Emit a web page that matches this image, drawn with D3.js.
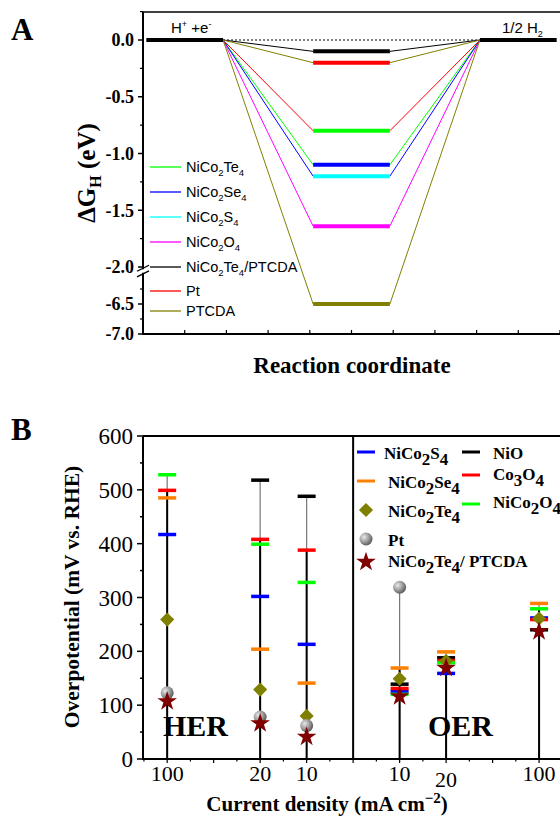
<!DOCTYPE html>
<html>
<head>
<meta charset="utf-8">
<script src="https://cdn.jsdelivr.net/npm/d3@7"></script>
<style>
  body { margin: 0; background: #fff; }
  svg { display: block; }
</style>
</head>
<body>
<svg id="chart" width="560" height="817"></svg>
<script>
// ---- Panel A data: free energy levels (eV) ----
var levelNames = ["NiCo_2Te_4/PTCDA", "Pt", "NiCo_2Te_4", "NiCo_2Se_4", "NiCo_2S_4", "NiCo_2O_4", "PTCDA"];
var levelValues = [-0.10, -0.20, -0.80, -1.10, -1.20, -1.64, -6.50];
var levelColors = ["#000000", "#ff0000", "#00ff00", "#0000ff", "#00ffff", "#ff00ff", "#808000"];
// connector colours as drawn in the original (shifted against the levels)
var connectorColors = ["#000000", "#808000", "#ff0000", "#00ff00", "#0000ff", "#ff00ff", "#808000"];
var legendAOrder = ["NiCo_2Te_4", "NiCo_2Se_4", "NiCo_2S_4", "NiCo_2O_4", "NiCo_2Te_4/PTCDA", "Pt", "PTCDA"];
var ticksAUpper = [0.0, -0.5, -1.0, -1.5, -2.0];
var ticksALower = [-6.5, -7.0];

// ---- Panel B data: overpotential (mV vs RHE) ----
var catLabels = ["100", "20", "10", "10", "20", "100"];
var catSlots = [0, 2, 3, 5, 6, 8];
var seriesB = ["NiCo_2S_4", "NiCo_2Se_4", "NiCo_2Te_4", "Pt", "NiCo_2Te_4/ PTCDA", "NiO", "Co_3O_4", "NiCo_2O_4"];
var valNiCo2S4   = [417, 302, 213, 126, 159, 262];
var valNiCo2Se4  = [485, 204, 141, 169, 199, 289];
var valNiCo2Te4  = [259, 129, 80, 149, 182, 261];
var valPt        = [123, 78, 62, 319, null, null];
var valTePTCDA   = [109, 68, 43, 118, 171, 239];
var valNiO       = [null, 518, 488, 139, 188, 240];
var valCo3O4     = [499, 408, 388, 131, 183, 259];
var valNiCo2O4   = [528, 399, 328, 120, 179, 279];
var ticksBY = [0, 100, 200, 300, 400, 500, 600];

var SERIF = "'Liberation Serif', 'Times New Roman', serif";
var SANS = "'Liberation Sans', Arial, sans-serif";

var svg = d3.select("#chart");

// write "NiCo_2S_4" style strings with subscripts
function chem(sel, str, subSize, shift) {
    var parts = str.split(/(_\d)/).filter(function(p) { return p; });
    var back = 0;
    parts.forEach(function(p) {
        if (p[0] === "_") {
            sel.append("tspan").attr("dy", shift + back).style("font-size", subSize + "px").text(p[1]);
            back = -shift;
        } else {
            sel.append("tspan").attr("dy", back).text(p);
            back = 0;
        }
    });
}

// =================== Panel A ===================
var xA = d3.scaleLinear().domain([0, 10]).range([143, 560]);
var yUp = d3.scaleLinear().domain([0, -2]).range([40, 267]);
var yLo = d3.scaleLinear().domain([-6.5, -7.0]).range([304, 334]);
function yA(v) { return v > -3 ? yUp(v) : yLo(v); }

var gA = svg.append("g");

// axes frame
gA.append("line").attr("x1", 143).attr("x2", 560).attr("y1", 12).attr("y2", 12)
    .attr("stroke", "#000").attr("stroke-width", 1.5);
gA.append("line").attr("x1", 143).attr("x2", 143).attr("y1", 12).attr("y2", yUp(-2.02))
    .attr("stroke", "#000").attr("stroke-width", 2);
gA.append("line").attr("x1", 143).attr("x2", 143).attr("y1", yLo(-5.98)).attr("y2", 334)
    .attr("stroke", "#000").attr("stroke-width", 2);
gA.append("line").attr("x1", 142).attr("x2", 560).attr("y1", 334).attr("y2", 334)
    .attr("stroke", "#000").attr("stroke-width", 2);
// break marks
[yUp(-2.02) - 1, yLo(-5.98) + 1].forEach(function(y) {
    gA.append("line").attr("x1", 137).attr("x2", 149).attr("y1", y + 3).attr("y2", y - 3)
        .attr("stroke", "#000").attr("stroke-width", 1.3);
});

// y ticks
var minorUp = [0.25, -0.25, -0.75, -1.25, -1.75];
ticksAUpper.forEach(function(v) {
    gA.append("line").attr("x1", 138).attr("x2", 143).attr("y1", yUp(v)).attr("y2", yUp(v)).attr("stroke", "#000").attr("stroke-width", 1.5);
});
minorUp.forEach(function(v) {
    gA.append("line").attr("x1", 140).attr("x2", 143).attr("y1", yUp(v)).attr("y2", yUp(v)).attr("stroke", "#000").attr("stroke-width", 1.2);
});
ticksALower.forEach(function(v) {
    gA.append("line").attr("x1", 138).attr("x2", 143).attr("y1", yLo(v)).attr("y2", yLo(v)).attr("stroke", "#000").attr("stroke-width", 1.5);
});
[-6.25, -6.75].forEach(function(v) {
    gA.append("line").attr("x1", 140).attr("x2", 143).attr("y1", yLo(v)).attr("y2", yLo(v)).attr("stroke", "#000").attr("stroke-width", 1.2);
});
gA.selectAll("text.ytA").data(ticksAUpper.concat(ticksALower)).enter().append("text")
    .attr("x", 134).attr("y", function(d) { return yA(d); }).attr("dy", "0.35em")
    .attr("text-anchor", "end").style("font-family", SERIF).style("font-size", "18px").style("font-weight", "bold")
    .text(function(d) { return d3.format(".1f")(d).replace("\u2212", "-"); });

// x ticks (inward, unlabeled)
d3.range(1, 11).forEach(function(i) {
    gA.append("line").attr("x1", xA(i)).attr("x2", xA(i)).attr("y1", 334).attr("y2", 330)
        .attr("stroke", "#000").attr("stroke-width", 1.2);
});

// dotted zero line
var hw = 0.92;
gA.append("line").attr("x1", xA(1 + hw)).attr("x2", xA(9 - hw)).attr("y1", yA(0)).attr("y2", yA(0))
    .attr("stroke", "#000").attr("stroke-width", 1).attr("stroke-dasharray", "2,2");

// connectors
levelValues.forEach(function(v, i) {
    var pts = [[xA(1 + hw), yA(0)], [xA(5 - hw), yA(v)], [xA(5 + hw), yA(v)], [xA(9 - hw), yA(0)]];
    gA.append("path").attr("d", d3.line()([pts[0], pts[1]]))
        .attr("fill", "none").attr("stroke", connectorColors[i]).attr("stroke-width", 1);
    gA.append("path").attr("d", d3.line()([pts[2], pts[3]]))
        .attr("fill", "none").attr("stroke", connectorColors[i]).attr("stroke-width", 1);
});

// levels
gA.selectAll("line.lvl").data(levelValues).enter().append("line")
    .attr("x1", xA(5 - hw)).attr("x2", xA(5 + hw))
    .attr("y1", function(d) { return yA(d); }).attr("y2", function(d) { return yA(d); })
    .attr("stroke", function(d, i) { return levelColors[i]; }).attr("stroke-width", 4);
[1, 9].forEach(function(c) {
    gA.append("line").attr("x1", xA(c - hw)).attr("x2", xA(c + hw)).attr("y1", yA(0)).attr("y2", yA(0))
        .attr("stroke", "#000").attr("stroke-width", 4);
});

// state labels
var h1 = gA.append("text").attr("x", 171).attr("y", 33).style("font-family", SANS).style("font-size", "15px");
h1.append("tspan").text("H");
h1.append("tspan").attr("dy", -6).style("font-size", "9px").text("+");
h1.append("tspan").attr("dy", 6).text(" +e");
h1.append("tspan").attr("dy", -6).style("font-size", "9px").text("-");
var h2 = gA.append("text").attr("x", 502).attr("y", 33).style("font-family", SANS).style("font-size", "15px");
h2.append("tspan").text("1/2 H");
h2.append("tspan").attr("dy", 4).style("font-size", "9px").text("2");

// legend A
var legYs = [167, 192, 217, 242, 267, 291, 311];
legendAOrder.forEach(function(name, i) {
    var idx = levelNames.indexOf(name);
    gA.append("line").attr("x1", 150).attr("x2", 181).attr("y1", legYs[i]).attr("y2", legYs[i])
        .attr("stroke", levelColors[idx]).attr("stroke-width", 1.3);
    var t = gA.append("text").attr("x", 186).attr("y", legYs[i] + 5)
        .style("font-family", SANS).style("font-size", "14.5px");
    chem(t, name, 9.5, 4);
});

// axis titles A
var ylA = gA.append("text").attr("transform", "translate(95,173) rotate(-90)")
    .attr("text-anchor", "middle").style("font-family", SERIF).style("font-size", "25px").style("font-weight", "bold");
ylA.append("tspan").text("\u0394G");
ylA.append("tspan").attr("dy", 6).style("font-size", "16px").text("H");
ylA.append("tspan").attr("dy", -6).text(" (eV)");
gA.append("text").attr("x", 352).attr("y", 373).attr("text-anchor", "middle")
    .style("font-family", SERIF).style("font-size", "23px").style("font-weight", "bold").text("Reaction coordinate");
gA.append("text").attr("x", 11).attr("y", 40)
    .style("font-family", SERIF).style("font-size", "31px").style("font-weight", "bold").text("A");

// =================== Panel B ===================
var xB = d3.scaleLinear().domain([-0.52, 8.45]).range([143, 560]);
var yB = d3.scaleLinear().domain([0, 600]).range([759, 436]);
var gB = svg.append("g");

var defs = svg.append("defs");
var grad = defs.append("radialGradient").attr("id", "ptGrad").attr("cx", "35%").attr("cy", "35%").attr("r", "70%");
grad.append("stop").attr("offset", "0%").attr("stop-color", "#e8e8e8");
grad.append("stop").attr("offset", "55%").attr("stop-color", "#9a9a9a");
grad.append("stop").attr("offset", "100%").attr("stop-color", "#555555");

// frame
gB.append("line").attr("x1", 143).attr("x2", 560).attr("y1", 436).attr("y2", 436).attr("stroke", "#000").attr("stroke-width", 2);
gB.append("line").attr("x1", 143).attr("x2", 143).attr("y1", 436).attr("y2", 760).attr("stroke", "#000").attr("stroke-width", 2);
gB.append("line").attr("x1", 142).attr("x2", 560).attr("y1", 759).attr("y2", 759).attr("stroke", "#000").attr("stroke-width", 2);
gB.append("line").attr("x1", xB(4)).attr("x2", xB(4)).attr("y1", 436).attr("y2", 759).attr("stroke", "#000").attr("stroke-width", 2);

// y ticks B
d3.range(0, 601, 50).forEach(function(v) {
    var major = v % 100 === 0;
    gB.append("line").attr("x1", major ? 137 : 140).attr("x2", 143).attr("y1", yB(v)).attr("y2", yB(v))
        .attr("stroke", "#000").attr("stroke-width", 1.5);
});
gB.selectAll("text.ytB").data(ticksBY).enter().append("text")
    .attr("x", 133).attr("y", function(d) { return yB(d); }).attr("dy", "0.35em")
    .attr("text-anchor", "end").style("font-family", SERIF).style("font-size", "23px").text(function(d) { return d; });

// x ticks B
d3.range(-0.5, 8.5, 0.5).forEach(function(s) {
    gB.append("line").attr("x1", xB(s)).attr("x2", xB(s)).attr("y1", 759).attr("y2", Number.isInteger(s) ? 763 : 761.5)
        .attr("stroke", "#000").attr("stroke-width", 1.2);
});
catLabels.forEach(function(l, i) {
    gB.append("text").attr("x", xB(catSlots[i])).attr("y", i === 4 ? 787 : 781)
        .attr("text-anchor", "middle").style("font-family", SERIF).style("font-size", "22px").text(l);
});

// stems
var allB = [valNiCo2S4, valNiCo2Se4, valNiCo2Te4, valPt, valTePTCDA, valNiO, valCo3O4, valNiCo2O4];
catSlots.forEach(function(s, i) {
    var vals = allB.map(function(a) { return a[i]; }).filter(function(v) { return v != null; })
        .sort(function(a, b) { return b - a; });
    gB.append("line").attr("x1", xB(s)).attr("x2", xB(s)).attr("y1", yB(0)).attr("y2", yB(vals[0]))
        .attr("stroke", "#777").attr("stroke-width", 1.2);
    gB.append("line").attr("x1", xB(s)).attr("x2", xB(s)).attr("y1", yB(0)).attr("y2", yB(vals[1]))
        .attr("stroke", "#000").attr("stroke-width", 2);
});

// dash series
var dashSeries = [
    { v: valNiCo2S4, c: "#0000ff" },
    { v: valNiCo2Se4, c: "#ff8000" },
    { v: valNiO, c: "#000000" },
    { v: valCo3O4, c: "#ff0000" },
    { v: valNiCo2O4, c: "#00ff00" }
];
dashSeries.forEach(function(ser) {
    ser.v.forEach(function(v, i) {
        if (v == null) return;
        gB.append("line").attr("x1", xB(catSlots[i]) - 9).attr("x2", xB(catSlots[i]) + 9)
            .attr("y1", yB(v)).attr("y2", yB(v)).attr("stroke", ser.c).attr("stroke-width", 3.5);
    });
});

var diamond = d3.symbol().type(d3.symbolSquare).size(100);
var star = d3.symbol().type(d3.symbolStar).size(120);
valNiCo2Te4.forEach(function(v, i) {
    gB.append("path").attr("d", diamond())
        .attr("transform", "translate(" + xB(catSlots[i]) + "," + yB(v) + ") rotate(45)").attr("fill", "#808000");
});
valPt.forEach(function(v, i) {
    if (v == null) return;
    gB.append("circle").attr("cx", xB(catSlots[i])).attr("cy", yB(v)).attr("r", 6.5).attr("fill", "url(#ptGrad)");
});
valTePTCDA.forEach(function(v, i) {
    gB.append("path").attr("d", star())
        .attr("transform", "translate(" + xB(catSlots[i]) + "," + (yB(v) + 1) + ")").attr("fill", "#800000");
});

// legend B
function legText(x, y, str) {
    var t = gB.append("text").attr("x", x).attr("y", y)
        .style("font-family", SERIF).style("font-size", "17px").style("font-weight", "bold");
    chem(t, str, 17, 6);
}
gB.append("line").attr("x1", 357).attr("x2", 375).attr("y1", 452).attr("y2", 452).attr("stroke", "#0000ff").attr("stroke-width", 3);
legText(384, 459, seriesB[0]);
gB.append("line").attr("x1", 357).attr("x2", 375).attr("y1", 481).attr("y2", 481).attr("stroke", "#ff8000").attr("stroke-width", 3);
legText(388, 488, seriesB[1]);
gB.append("path").attr("d", diamond()).attr("transform", "translate(366,510) rotate(45)").attr("fill", "#808000");
legText(388, 517, seriesB[2]);
gB.append("circle").attr("cx", 366).attr("cy", 539).attr("r", 6.5).attr("fill", "url(#ptGrad)");
legText(388, 546, seriesB[3]);
gB.append("path").attr("d", star()).attr("transform", "translate(366,562)").attr("fill", "#800000");
legText(388, 567, seriesB[4]);
gB.append("line").attr("x1", 462).attr("x2", 480).attr("y1", 452).attr("y2", 452).attr("stroke", "#000").attr("stroke-width", 3);
legText(493, 459, seriesB[5]);
gB.append("line").attr("x1", 462).attr("x2", 480).attr("y1", 475).attr("y2", 475).attr("stroke", "#ff0000").attr("stroke-width", 3);
legText(493, 480, seriesB[6]);
gB.append("line").attr("x1", 462).attr("x2", 480).attr("y1", 504).attr("y2", 504).attr("stroke", "#00ff00").attr("stroke-width", 3);
legText(493, 508, seriesB[7]);

// annotations and titles B
gB.append("text").attr("x", 163).attr("y", 736)
    .style("font-family", SERIF).style("font-size", "30px").style("font-weight", "bold").text("HER");
gB.append("text").attr("x", 428).attr("y", 736)
    .style("font-family", SERIF).style("font-size", "30px").style("font-weight", "bold").text("OER");
gB.append("text").attr("transform", "translate(79,597) rotate(-90)")
    .attr("text-anchor", "middle").style("font-family", SERIF).style("font-size", "21.5px").style("font-weight", "bold")
    .text("Overpotential (mV vs. RHE)");
var xl = gB.append("text").attr("x", 327).attr("y", 811).attr("text-anchor", "middle")
    .style("font-family", SERIF).style("font-size", "21px").style("font-weight", "bold");
xl.append("tspan").text("Current density (mA cm");
xl.append("tspan").attr("dy", -8).style("font-size", "15px").text("\u22122");
xl.append("tspan").attr("dy", 8).text(")");
gB.append("text").attr("x", 11).attr("y", 440)
    .style("font-family", SERIF).style("font-size", "31px").style("font-weight", "bold").text("B");
</script>
</body>
</html>
